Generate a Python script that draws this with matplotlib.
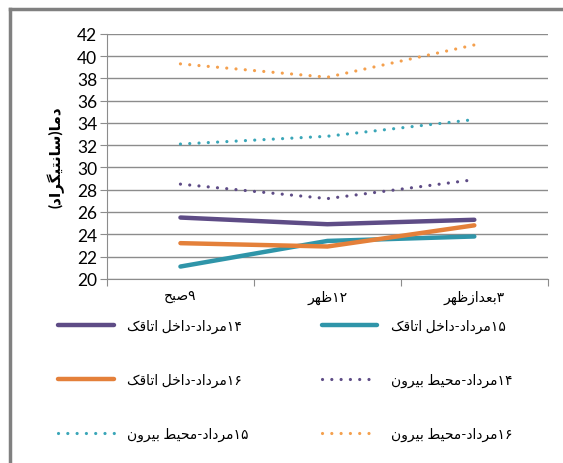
"""Temperature in the chamber and outside over three days (Persian line chart)."""

import re

import matplotlib

matplotlib.use("Agg")
import matplotlib.pyplot as plt

plt.rcParams["font.family"] = ["Lato", "DejaVu Sans"]

times = ["۹صبح", "۱۲ظهر", "۳بعدازظهر"]
y_label = "دما(سانتیگراد)"

inside_14 = [25.5, 24.9, 25.3]
inside_15 = [21.1, 23.4, 23.8]
inside_16 = [23.2, 22.9, 24.8]
outside_14 = [28.5, 27.2, 28.9]
outside_15 = [32.1, 32.8, 34.3]
outside_16 = [39.3, 38.1, 41.0]

names = [
    "۱۴مرداد-داخل اتاقک",
    "۱۵مرداد-داخل اتاقک",
    "۱۶مرداد-داخل اتاقک",
    "۱۴مرداد-محیط بیرون",
    "۱۵مرداد-محیط بیرون",
    "۱۶مرداد-محیط بیرون",
]

# presentation forms: isolated, final[, initial, medial]
FORMS = {
    "ا": "\ufe8d\ufe8e", "د": "\ufea9\ufeaa", "ر": "\ufead\ufeae",
    "ز": "\ufeaf\ufeb0", "و": "\ufeed\ufeee",
    "ب": "\ufe8f\ufe90\ufe91\ufe92", "ت": "\ufe95\ufe96\ufe97\ufe98",
    "ح": "\ufea1\ufea2\ufea3\ufea4", "خ": "\ufea5\ufea6\ufea7\ufea8",
    "س": "\ufeb1\ufeb2\ufeb3\ufeb4", "ص": "\ufeb9\ufeba\ufebb\ufebc",
    "ط": "\ufec1\ufec2\ufec3\ufec4", "ظ": "\ufec5\ufec6\ufec7\ufec8",
    "ع": "\ufec9\ufeca\ufecb\ufecc", "ق": "\ufed5\ufed6\ufed7\ufed8",
    "ل": "\ufedd\ufede\ufedf\ufee0", "م": "\ufee1\ufee2\ufee3\ufee4",
    "ن": "\ufee5\ufee6\ufee7\ufee8", "ه": "\ufee9\ufeea\ufeeb\ufeec",
    "ک": "\ufb8e\ufb8f\ufb90\ufb91", "گ": "\ufb92\ufb93\ufb94\ufb95",
    "ی": "\ufbfc\ufbfd\ufbfe\ufbff",
}


def rtl(text):
    """Join Persian letters and put them in visual (left-to-right) order."""
    out = []
    for i, ch in enumerate(text):
        forms = FORMS.get(ch)
        if not forms:
            out.append(ch)
            continue
        prev = text[i - 1] if i > 0 else ""
        nxt = text[i + 1] if i + 1 < len(text) else ""
        join_prev = len(FORMS.get(prev, "")) == 4
        join_next = len(forms) == 4 and nxt in FORMS
        out.append(forms[[0, 2, 1, 3][join_prev * 2 + join_next]])
    vis = "".join(out)[::-1].translate(str.maketrans("()", ")("))
    return re.sub(r"[۰-۹0-9]+", lambda m: m.group()[::-1], vis)


PURPLE, TEAL, ORANGE = "#5e4c86", "#2f95a9", "#e4803a"
GRID = "#8c8c8c"

fig = plt.figure(figsize=(5.63, 4.64), dpi=100)
ax = fig.add_axes([0.190, 0.397, 0.783, 0.528])

xs = range(len(times))
solid = dict(linewidth=3.2, solid_capstyle="round")
dots = dict(linewidth=2.3, linestyle=(0, (0.01, 2.9)), dash_capstyle="round")
h1, = ax.plot(xs, inside_14, color=PURPLE, label=rtl(names[0]), **solid)
h2, = ax.plot(xs, inside_15, color=TEAL, label=rtl(names[1]), **solid)
h3, = ax.plot(xs, inside_16, color=ORANGE, label=rtl(names[2]), **solid)
h4, = ax.plot(xs, outside_14, color=PURPLE, label=rtl(names[3]), **dots)
h5, = ax.plot(xs, outside_15, color="#3aa6b8", label=rtl(names[4]), **dots)
h6, = ax.plot(xs, outside_16, color="#f4a04e", label=rtl(names[5]), **dots)

ax.set_xlim(-0.5, 2.5)
ax.set_ylim(20, 42)
ax.set_yticks(range(20, 43, 2))
ax.set_xticks([-0.5, 0.5, 1.5, 2.5])
ax.set_xticklabels([])
ax.set_xticks(list(xs), [rtl(t) for t in times], minor=True)
ax.tick_params(axis="x", which="minor", length=0, labelsize=10, pad=8)
ax.tick_params(axis="x", which="major", length=5, color=GRID)
ax.tick_params(axis="y", length=5, color=GRID, labelsize=12.5, pad=2)
ax.grid(axis="y", color=GRID, linewidth=1)
ax.set_axisbelow(True)
for side in ("top", "right"):
    ax.spines[side].set_visible(False)
for side in ("left", "bottom"):
    ax.spines[side].set_color(GRID)
ax.set_ylabel(rtl(y_label), fontsize=11, fontweight="bold", labelpad=9)

# legend fills column by column
order = [h1, h3, h5, h2, h4, h6]
fig.legend(
    handles=order,
    labels=[h.get_label() for h in order],
    ncol=2,
    loc="upper left",
    bbox_to_anchor=(58 / 563, 1 - 320 / 464),
    frameon=False,
    fontsize=10,
    handlelength=4.0,
    handletextpad=0.95,
    labelspacing=2.85,
    columnspacing=5.3,
    borderpad=0,
    borderaxespad=0,
)

# grey frame along the top and left edges
fig.add_artist(plt.Line2D([10 / 563, 1], [1 - 10 / 464] * 2, color="#808080",
                          linewidth=2.5, transform=fig.transFigure))
fig.add_artist(plt.Line2D([10 / 563] * 2, [0, 1 - 10 / 464], color="#808080",
                          linewidth=2.5, transform=fig.transFigure))

fig.savefig("out.png", dpi=100)
